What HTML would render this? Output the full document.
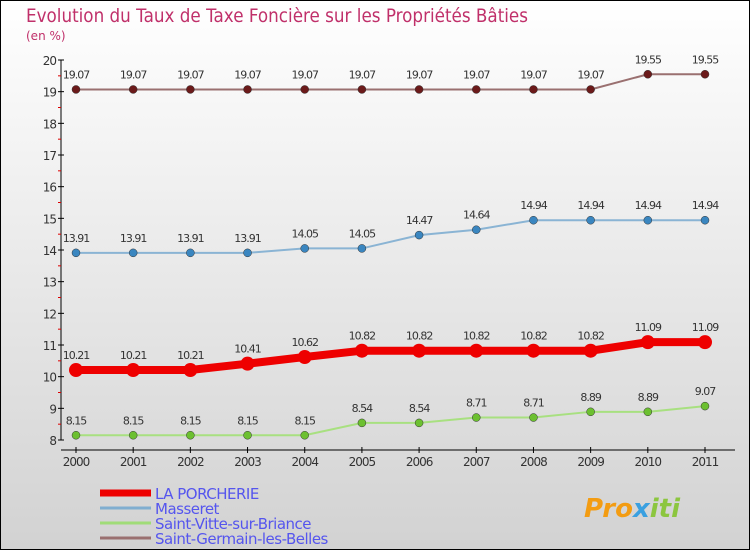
<!DOCTYPE html>
<html><head><meta charset="utf-8"><style>
body{margin:0}
svg{display:block;font-family:"DejaVu Sans","Liberation Sans",sans-serif}
</style></head><body>
<svg width="750" height="550">
<defs><linearGradient id="bg" x1="0" y1="0" x2="0" y2="1"><stop offset="0" stop-color="#ffffff"/><stop offset="1" stop-color="#d2d2d2"/></linearGradient></defs>
<rect x="0.5" y="0.5" width="749" height="549" fill="url(#bg)" stroke="#000"/>
<text x="26" y="22" font-size="19" fill="#c0306a" textLength="502" lengthAdjust="spacingAndGlyphs">Evolution du Taux de Taxe Foncière sur les Propriétés Bâties</text>
<text x="26" y="40" font-size="12" fill="#c0306a">(en %)</text>
<g id="axes"></g>
<g id="series"></g>
<g id="legend"></g>
<text x="584" y="517" font-size="26" font-weight="bold" font-style="italic" fill="#f39c12">Pro<tspan fill="#3aa0e0">x</tspan><tspan fill="#8cc63f">iti</tspan></text>
</svg>
<script>
const years=["2000","2001","2002","2003","2004","2005","2006","2007","2008","2009","2010","2011"];
const yTicks=[8,9,10,11,12,13,14,15,16,17,18,19,20];
const names=["LA PORCHERIE","Masseret","Saint-Vitte-sur-Briance","Saint-Germain-les-Belles"];
const laPorcherie=[10.21,10.21,10.21,10.41,10.62,10.82,10.82,10.82,10.82,10.82,11.09,11.09];
const masseret=[13.91,13.91,13.91,13.91,14.05,14.05,14.47,14.64,14.94,14.94,14.94,14.94];
const saintVitte=[8.15,8.15,8.15,8.15,8.15,8.54,8.54,8.71,8.71,8.89,8.89,9.07];
const saintGermain=[19.07,19.07,19.07,19.07,19.07,19.07,19.07,19.07,19.07,19.07,19.55,19.55];
const NS="http://www.w3.org/2000/svg";
const X=i=>76+i*(629/11);
const Y=v=>440-(v-8)*(380/12);
function mk(tag,at,parent,txt){const e=document.createElementNS(NS,tag);for(const k in at)e.setAttribute(k,at[k]);if(txt!==undefined)e.textContent=txt;parent.appendChild(e);return e;}
const ax=document.getElementById('axes');
let e=mk('line',{x1:61,y1:60,x2:61,y2:440,stroke:'#000'},ax);

e=mk('line',{x1:61,y1:450,x2:735,y2:450,stroke:'#000'},ax);

yTicks.forEach((t,i)=>{
 mk('line',{x1:58,y1:Y(t),x2:64,y2:Y(t),stroke:'#000'},ax);
 if(i<yTicks.length-1) mk('line',{x1:58,y1:Y(t+0.5),x2:61,y2:Y(t+0.5),stroke:'#d00'},ax);
 e=mk('text',{x:56,y:Y(t)+5,'font-size':12,'text-anchor':'end',fill:'#333','letter-spacing':'-1'},ax,String(t));
 
});
years.forEach((y,i)=>{
 mk('line',{x1:X(i),y1:447,x2:X(i),y2:453,stroke:'#000'},ax);
 e=mk('text',{x:X(i),y:466,'font-size':12,'text-anchor':'middle',fill:'#333','letter-spacing':'-1'},ax,y);
 
});
const sg=document.getElementById('series');
const defs=[
 {d:saintGermain,c:'#9a7070',m:'#6b1a1a',w:2,r:4,n:'saint-germain'},
 {d:masseret,c:'#8ab4d4',m:'#3a86c0',w:2,r:4,n:'masseret'},
 {d:saintVitte,c:'#a8e080',m:'#6cc030',w:2,r:4,n:'saint-vitte'},
 {d:laPorcherie,c:'#ee0000',m:'#ee0000',w:8,r:7,n:'la-porcherie'}];
defs.forEach(s=>{
 const g=mk('g',{},sg);
 
 const l=mk('polyline',{points:s.d.map((v,i)=>X(i)+','+Y(v)).join(' '),fill:'none',stroke:s.c,'stroke-width':s.w},g);
 
 s.d.forEach((v,i)=>{
  const p=mk('circle',{cx:X(i),cy:Y(v),r:s.r,fill:s.m,stroke:s.n==='la-porcherie'?'none':'#333','stroke-width':0.5},g);
  
  const t=mk('text',{x:X(i),y:Y(v)-11,'font-size':11,'text-anchor':'middle',fill:'#333','letter-spacing':'-1'},g,String(v));
  
 });
});
const lg=document.getElementById('legend');
const lc=['#ee0000','#80aed0','#a0dc78','#9a7070'],lw=[7,3,3,3],ly=[493,508,523,538];
names.forEach((n,i)=>{
 const g=mk('g',{},lg);
 
 mk('line',{x1:100,y1:ly[i],x2:151,y2:ly[i],stroke:lc[i],'stroke-width':lw[i]},g);
 mk('text',{x:155,y:ly[i]+6,'font-size':15,fill:'#5555ee','letter-spacing':'-0.5'},g,n);
});
</script>
</body></html>
